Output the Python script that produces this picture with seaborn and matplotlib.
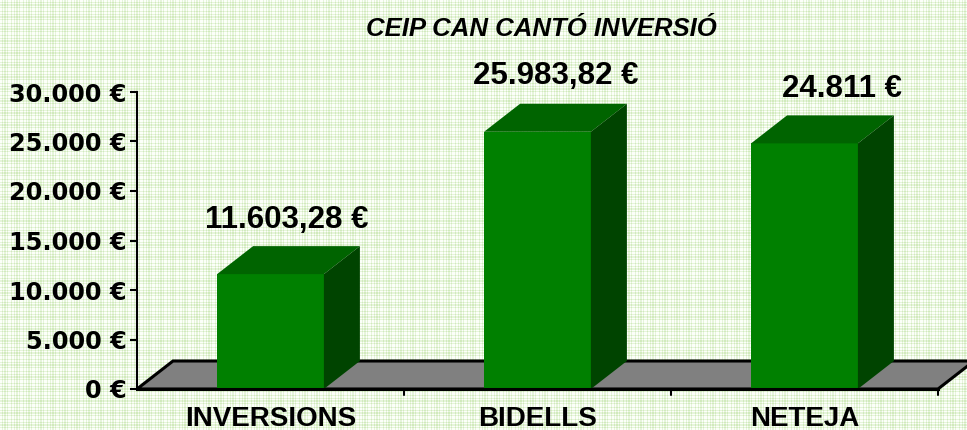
import numpy as np
import pandas as pd
import matplotlib
matplotlib.use("Agg")
import matplotlib.pyplot as plt
from matplotlib.patches import Polygon
import seaborn as sns

categories = ['INVERSIONS', 'BIDELLS', 'NETEJA']
values = [11603.28, 25983.82, 24811]
value_labels = ['11.603,28 €', '25.983,82 €', '24.811 €']
yticks = [0, 5000, 10000, 15000, 20000, 25000, 30000]
ytick_labels = ['0 €', '5.000 €', '10.000 €', '15.000 €', '20.000 €', '25.000 €', '30.000 €']
title = 'CEIP CAN CANTÓ INVERSIÓ'

sns.set_theme(style='white')
plt.rcParams['font.family'] = ['Liberation Sans', 'DejaVu Sans']

W, H = 967, 430
fig = plt.figure(figsize=(W / 100, H / 100), dpi=100)

# plaid background
band = np.array([0, 0, 1, 0, 1, 1, 0, 1, 0, 0, 0, 1])
light = np.array([0.99, 1.0, 0.98])
green = np.array([0.82, 0.92, 0.74])
amount = (band[:, None] + band[None, :]) / 2
tile = light + amount[:, :, None] * (green - light)
bg = np.tile(tile, (H // 12 + 1, W // 12 + 1, 1))[:H, :W]
fig.figimage(bg, 0, 0, zorder=-5)

left, right, top, bottom = 137, 938, 92, 389
ax = fig.add_axes([left / W, 1 - bottom / H, (right - left) / W, (bottom - top) / H])
ax.patch.set_alpha(0)

df = pd.DataFrame({'cat': categories, 'val': values})
sns.barplot(data=df, x='cat', y='val', color='#008000', saturation=1, width=0.4,
            linewidth=0, ax=ax, zorder=3)
ax.set_xlim(-0.5, 2.5)
ax.set_ylim(0, 30000)

# depth of the 3d effect in data units
dx = 36 / ((right - left) / 3)
dy = 28 / (bottom - top) * 30000

# floor
x0, x1 = -0.5, 2.5
ax.add_patch(Polygon([(x0, 0), (x0 + dx, dy), (x1 + dx, dy), (x1, 0)], closed=True,
                     facecolor='#808080', edgecolor='black', linewidth=2.2,
                     zorder=1, clip_on=False))

# label positions, in px from the bar's back top corner
label_dx = [16, 18, 38]
label_dy = [26, 28, 26]

for i, v in enumerate(values):
    l, r = i - 0.2, i + 0.2
    ax.add_patch(Polygon([(l, v), (l + dx, v + dy), (r + dx, v + dy), (r, v)],
                         closed=True, facecolor='#006400', edgecolor='none',
                         zorder=3, clip_on=False))
    ax.add_patch(Polygon([(r, 0), (r + dx, dy), (r + dx, v + dy), (r, v)],
                         closed=True, facecolor='#004400', edgecolor='none',
                         zorder=3, clip_on=False))
    ax.annotate(value_labels[i], xy=(i, v + dy), xytext=(label_dx[i] * 0.72, label_dy[i] * 0.72),
                textcoords='offset points', ha='center', va='center',
                fontsize=22.5, fontweight='bold', color='black', zorder=5,
                annotation_clip=False)

sns.despine(ax=ax, top=True, right=True)
ax.spines['left'].set_linewidth(1.5)
ax.spines['left'].set_color('black')
ax.spines['bottom'].set_linewidth(2.2)
ax.spines['bottom'].set_color('black')
ax.spines['bottom'].set_zorder(4)

ax.set_yticks(yticks)
ax.set_yticklabels(ytick_labels, fontsize=17.3, fontweight='bold', color='black',
                   family=['DejaVu Sans'])
ax.set_xticks([0, 1, 2])
ax.set_xticklabels(categories, fontsize=20, fontweight='bold', color='black')
ax.tick_params(axis='y', left=True, length=5, width=1.5, color='black', pad=2.5)
ax.tick_params(axis='x', bottom=False, pad=6)
for t in [0.5, 1.5, 2.5]:
    ax.plot([t, t], [0, -600], color='black', lw=1.5, clip_on=False, zorder=4)
ax.set_xlabel('')
ax.set_ylabel('')

fig.text(541 / W, 1 - 29.5 / H, title, ha='center', va='center', fontsize=18.5,
         fontweight='bold', fontstyle='italic', color='black')

fig.savefig('out.png', dpi=100)
